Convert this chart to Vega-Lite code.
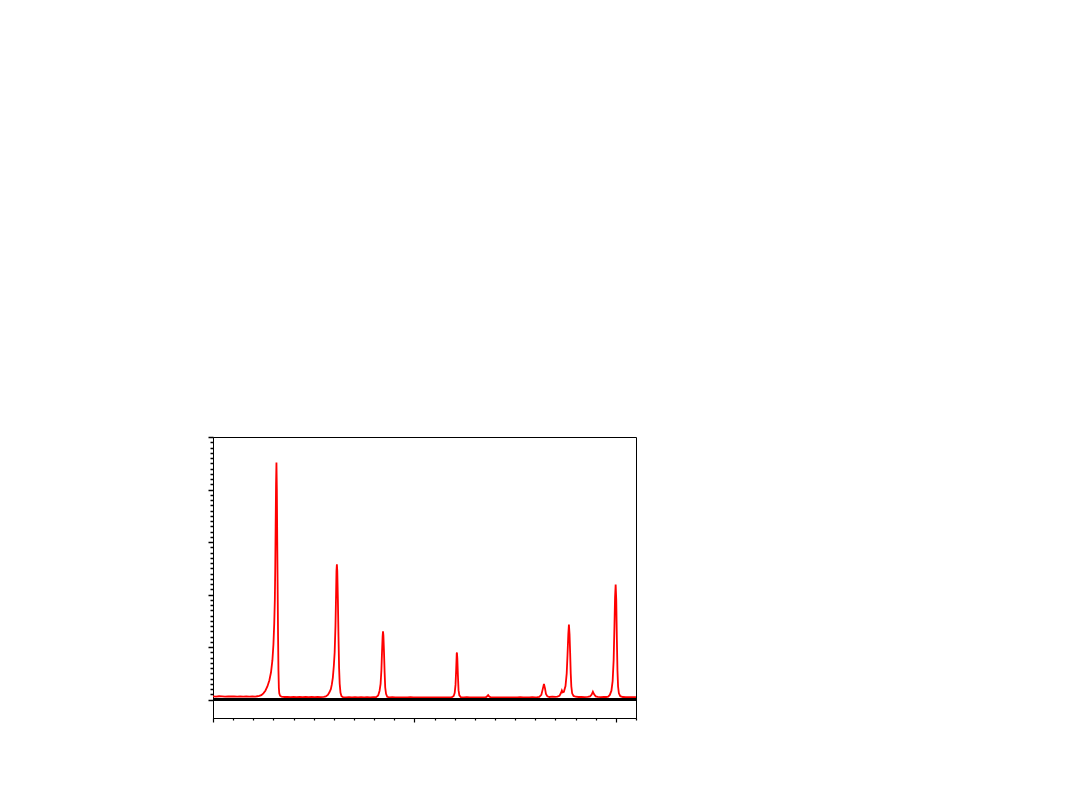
{
  "$schema": "https://vega.github.io/schema/vega-lite/v6.json",
  "width": 423,
  "height": 281,
  "autosize": {"type": "none"},
  "padding": {"left": 213, "top": 437, "right": 445, "bottom": 92},
  "background": "white",
  "config": {
    "view": {"stroke": "black", "strokeWidth": 1},
    "axis": {"domainColor": "black", "tickColor": "black", "labels": false, "grid": false, "domainWidth": 1, "tickWidth": 1}
  },
  "data": {
    "values": [
      {"x": 10.0, "y": 62}, {"x": 10.15, "y": 58}, {"x": 10.3, "y": 64}, {"x": 10.45, "y": 60}, {"x": 10.6, "y": 57},
      {"x": 10.75, "y": 63}, {"x": 10.9, "y": 59}, {"x": 11.05, "y": 61}, {"x": 11.2, "y": 56}, {"x": 11.35, "y": 62},
      {"x": 11.5, "y": 58}, {"x": 11.65, "y": 63}, {"x": 11.8, "y": 57}, {"x": 11.95, "y": 60}, {"x": 12.1, "y": 58},
      {"x": 12.2, "y": 64}, {"x": 12.3, "y": 70}, {"x": 12.4, "y": 85}, {"x": 12.5, "y": 120}, {"x": 12.6, "y": 170},
      {"x": 12.7, "y": 250}, {"x": 12.8, "y": 370}, {"x": 12.88, "y": 520}, {"x": 12.95, "y": 750}, {"x": 13.0, "y": 1050},
      {"x": 13.04, "y": 1450}, {"x": 13.07, "y": 1900}, {"x": 13.09, "y": 2500}, {"x": 13.11, "y": 3300}, {"x": 13.13, "y": 4100},
      {"x": 13.15, "y": 4513}, {"x": 13.17, "y": 4000}, {"x": 13.19, "y": 3000}, {"x": 13.21, "y": 2100}, {"x": 13.23, "y": 1200},
      {"x": 13.25, "y": 550}, {"x": 13.27, "y": 220}, {"x": 13.29, "y": 120}, {"x": 13.33, "y": 75}, {"x": 13.4, "y": 55},
      {"x": 13.55, "y": 50}, {"x": 13.7, "y": 54}, {"x": 13.85, "y": 48}, {"x": 14.0, "y": 52}, {"x": 14.15, "y": 47},
      {"x": 14.3, "y": 51}, {"x": 14.45, "y": 46}, {"x": 14.6, "y": 50}, {"x": 14.75, "y": 47}, {"x": 14.9, "y": 52},
      {"x": 15.05, "y": 46}, {"x": 15.2, "y": 50}, {"x": 15.35, "y": 48}, {"x": 15.5, "y": 52}, {"x": 15.6, "y": 60},
      {"x": 15.7, "y": 90}, {"x": 15.78, "y": 140}, {"x": 15.85, "y": 200}, {"x": 15.9, "y": 290}, {"x": 15.95, "y": 420},
      {"x": 16.0, "y": 650}, {"x": 16.04, "y": 900}, {"x": 16.08, "y": 1400}, {"x": 16.11, "y": 2000}, {"x": 16.13, "y": 2450},
      {"x": 16.15, "y": 2574}, {"x": 16.17, "y": 2450}, {"x": 16.2, "y": 1900}, {"x": 16.23, "y": 1200}, {"x": 16.26, "y": 600},
      {"x": 16.29, "y": 300}, {"x": 16.33, "y": 130}, {"x": 16.38, "y": 65}, {"x": 16.45, "y": 48}, {"x": 16.6, "y": 44},
      {"x": 16.75, "y": 47}, {"x": 16.9, "y": 42}, {"x": 17.05, "y": 46}, {"x": 17.2, "y": 43}, {"x": 17.35, "y": 47},
      {"x": 17.5, "y": 42}, {"x": 17.65, "y": 45}, {"x": 17.8, "y": 43}, {"x": 17.95, "y": 46}, {"x": 18.1, "y": 48},
      {"x": 18.2, "y": 80}, {"x": 18.27, "y": 170}, {"x": 18.32, "y": 300}, {"x": 18.36, "y": 560}, {"x": 18.39, "y": 900},
      {"x": 18.42, "y": 1200}, {"x": 18.44, "y": 1300}, {"x": 18.46, "y": 1220}, {"x": 18.49, "y": 900}, {"x": 18.52, "y": 520},
      {"x": 18.55, "y": 230}, {"x": 18.59, "y": 110}, {"x": 18.65, "y": 55}, {"x": 18.75, "y": 42}, {"x": 18.9, "y": 45},
      {"x": 19.05, "y": 41}, {"x": 19.2, "y": 44}, {"x": 19.35, "y": 40}, {"x": 19.5, "y": 43}, {"x": 19.65, "y": 41},
      {"x": 19.8, "y": 45}, {"x": 19.95, "y": 40}, {"x": 20.1, "y": 43}, {"x": 20.25, "y": 41}, {"x": 20.4, "y": 44},
      {"x": 20.55, "y": 40}, {"x": 20.7, "y": 43}, {"x": 20.85, "y": 41}, {"x": 21.0, "y": 44}, {"x": 21.15, "y": 40},
      {"x": 21.3, "y": 43}, {"x": 21.45, "y": 41}, {"x": 21.6, "y": 44}, {"x": 21.75, "y": 42}, {"x": 21.85, "y": 45},
      {"x": 21.95, "y": 70}, {"x": 22.0, "y": 130}, {"x": 22.04, "y": 280}, {"x": 22.07, "y": 550}, {"x": 22.1, "y": 880},
      {"x": 22.11, "y": 896}, {"x": 22.13, "y": 780}, {"x": 22.16, "y": 450}, {"x": 22.19, "y": 180}, {"x": 22.23, "y": 80},
      {"x": 22.3, "y": 48}, {"x": 22.45, "y": 42}, {"x": 22.6, "y": 45}, {"x": 22.75, "y": 40}, {"x": 22.9, "y": 43},
      {"x": 23.05, "y": 41}, {"x": 23.2, "y": 44}, {"x": 23.35, "y": 40}, {"x": 23.5, "y": 43}, {"x": 23.58, "y": 50},
      {"x": 23.63, "y": 75}, {"x": 23.66, "y": 85}, {"x": 23.7, "y": 62}, {"x": 23.78, "y": 43}, {"x": 23.9, "y": 41},
      {"x": 24.05, "y": 44}, {"x": 24.2, "y": 40}, {"x": 24.35, "y": 43}, {"x": 24.5, "y": 41}, {"x": 24.65, "y": 44},
      {"x": 24.8, "y": 40}, {"x": 24.95, "y": 43}, {"x": 25.1, "y": 41}, {"x": 25.25, "y": 45}, {"x": 25.4, "y": 41},
      {"x": 25.55, "y": 44}, {"x": 25.7, "y": 42}, {"x": 25.85, "y": 46}, {"x": 26.0, "y": 43}, {"x": 26.1, "y": 46},
      {"x": 26.2, "y": 50}, {"x": 26.3, "y": 90}, {"x": 26.37, "y": 200}, {"x": 26.43, "y": 300}, {"x": 26.48, "y": 220},
      {"x": 26.53, "y": 110}, {"x": 26.6, "y": 62}, {"x": 26.7, "y": 50}, {"x": 26.85, "y": 55}, {"x": 27.0, "y": 52},
      {"x": 27.1, "y": 56}, {"x": 27.2, "y": 72}, {"x": 27.28, "y": 130}, {"x": 27.32, "y": 175}, {"x": 27.36, "y": 140},
      {"x": 27.42, "y": 150}, {"x": 27.5, "y": 260}, {"x": 27.56, "y": 500}, {"x": 27.6, "y": 850}, {"x": 27.64, "y": 1250},
      {"x": 27.67, "y": 1430}, {"x": 27.7, "y": 1250}, {"x": 27.73, "y": 900}, {"x": 27.76, "y": 500}, {"x": 27.79, "y": 250},
      {"x": 27.83, "y": 120}, {"x": 27.9, "y": 70}, {"x": 28.0, "y": 55}, {"x": 28.15, "y": 50}, {"x": 28.3, "y": 53},
      {"x": 28.45, "y": 48}, {"x": 28.6, "y": 52}, {"x": 28.72, "y": 60}, {"x": 28.8, "y": 95}, {"x": 28.86, "y": 150},
      {"x": 28.92, "y": 100}, {"x": 29.0, "y": 62}, {"x": 29.1, "y": 52}, {"x": 29.25, "y": 48}, {"x": 29.4, "y": 52},
      {"x": 29.52, "y": 50}, {"x": 29.62, "y": 58}, {"x": 29.7, "y": 90}, {"x": 29.78, "y": 170}, {"x": 29.84, "y": 350},
      {"x": 29.89, "y": 750}, {"x": 29.93, "y": 1400}, {"x": 29.96, "y": 1950}, {"x": 29.99, "y": 2193}, {"x": 30.02, "y": 1900},
      {"x": 30.05, "y": 1150}, {"x": 30.08, "y": 550}, {"x": 30.11, "y": 250}, {"x": 30.15, "y": 120}, {"x": 30.22, "y": 65},
      {"x": 30.35, "y": 50}, {"x": 30.5, "y": 46}, {"x": 30.65, "y": 49}, {"x": 30.8, "y": 45}, {"x": 31.0, "y": 47}
    ]
  },
  "layer": [
    {
      "mark": {"type": "line", "color": "#ff0000", "strokeWidth": 1.8, "clip": true},
      "encoding": {
        "x": {
          "field": "x", "type": "quantitative",
          "scale": {"domain": [10, 31], "nice": false, "zero": false},
          "axis": {
            "title": null, "labels": false, "tickCount": 500, "tickWidth": 1.2,
            "values": [10, 11, 12, 13, 14, 15, 16, 17, 18, 19, 20, 21, 22, 23, 24, 25, 26, 27, 28, 29, 30, 31],
            "tickSize": {"condition": {"test": "datum.value % 10 === 0", "value": 4}, "value": 2}
          }
        },
        "y": {
          "field": "y", "type": "quantitative",
          "scale": {"domain": [-350, 5000], "nice": false, "zero": false},
          "axis": {
            "title": null, "labels": false, "tickCount": 500, "tickWidth": 1.5,
            "values": [0, 100, 200, 300, 400, 500, 600, 700, 800, 900, 1000, 1100, 1200, 1300, 1400, 1500, 1600, 1700, 1800, 1900, 2000, 2100, 2200, 2300, 2400, 2500, 2600, 2700, 2800, 2900, 3000, 3100, 3200, 3300, 3400, 3500, 3600, 3700, 3800, 3900, 4000, 4100, 4200, 4300, 4400, 4500, 4600, 4700, 4800, 4900, 5000],
            "tickSize": {"condition": {"test": "datum.value % 1000 === 0", "value": 5}, "value": 3}
          }
        }
      }
    },
    {
      "mark": {"type": "rule", "color": "black", "strokeWidth": 2},
      "encoding": {"y": {"datum": 0}}
    }
  ]
}
